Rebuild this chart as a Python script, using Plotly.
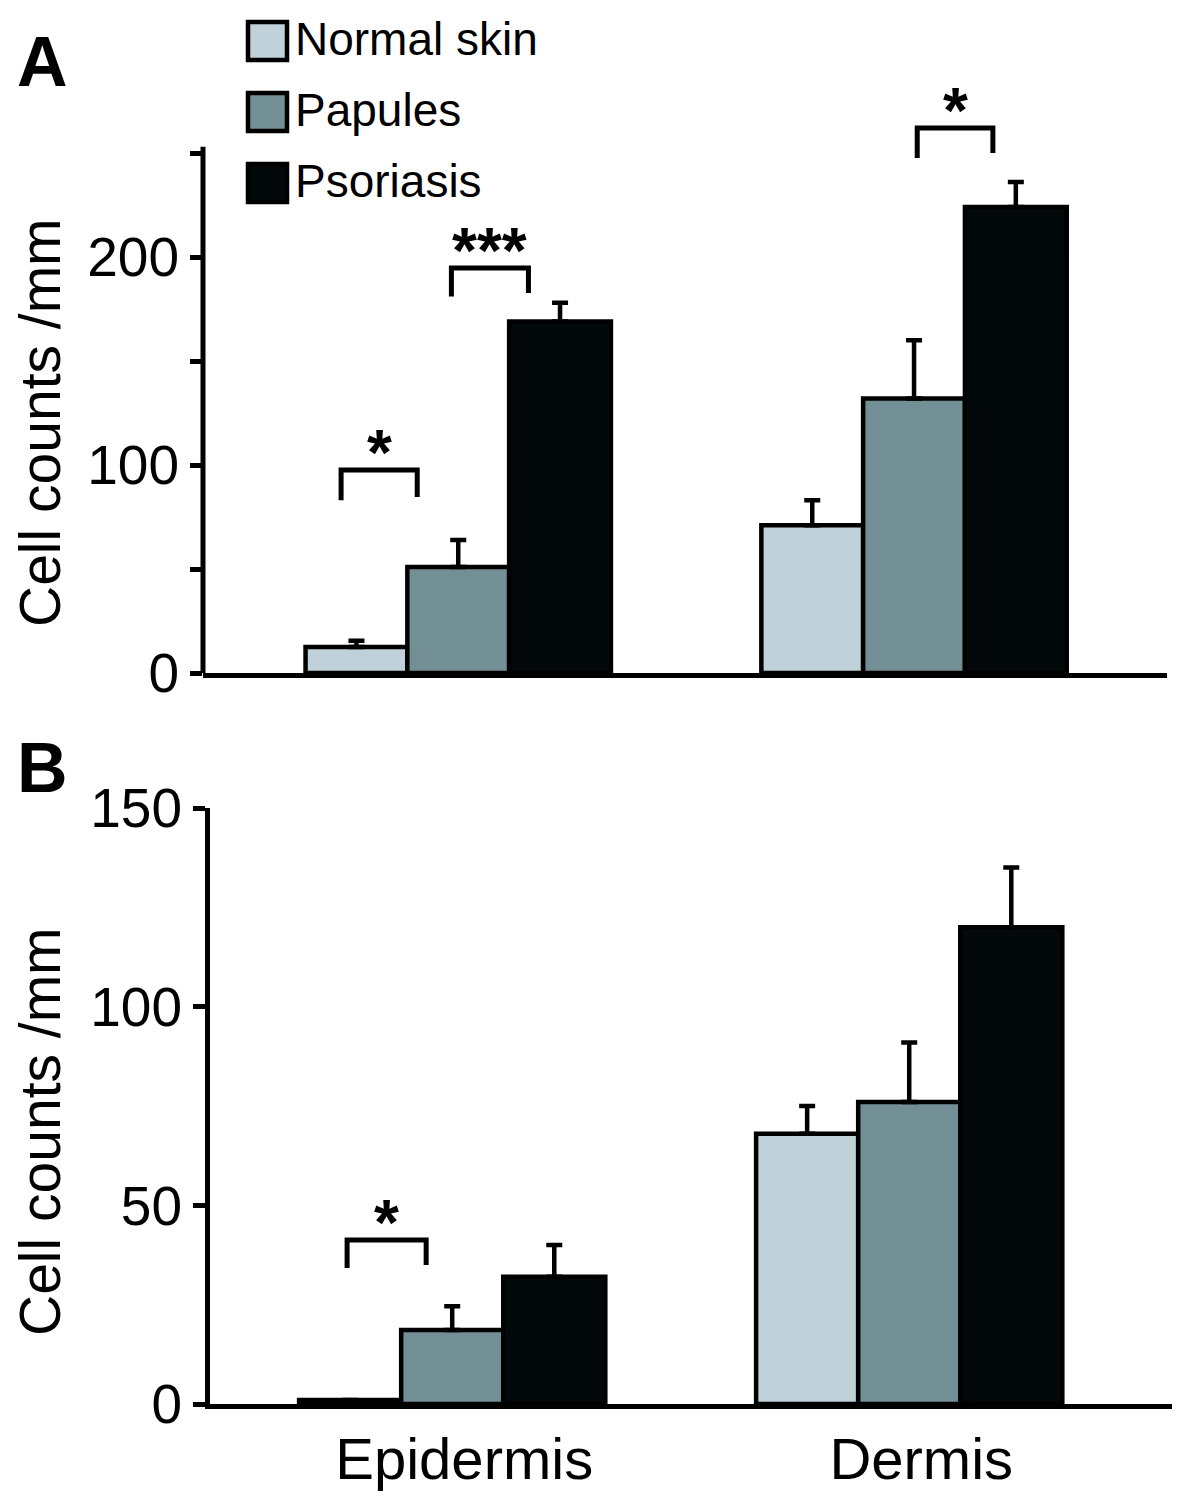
import plotly.graph_objects as go

# page body has an 8px margin; compensate so the figure lands where the reference is
OFF = 8
W, H = 1200 - OFF, 1498 - OFF

categories = ["Epidermis", "Dermis"]
series_names = ["Normal skin", "Papules", "Psoriasis"]
series_colors = ["#c1d1d9", "#728f96", "#03090b"]

# Panel A values (mean, upper error)
a_normal = [12.5, 71]
a_normal_err = [3, 12]
a_papules = [51, 132]
a_papules_err = [13, 28]
a_psoriasis = [169, 224]
a_psoriasis_err = [9, 12]

# Panel B values
b_normal = [1, 68]
b_normal_err = [0, 7]
b_papules = [18.6, 76]
b_papules_err = [6, 15]
b_psoriasis = [32, 120]
b_psoriasis_err = [8, 15]

a_ticks = [0, 50, 100, 150, 200, 250]
a_ticktext = ["0", "", "100", "", "200", ""]
b_ticks = [0, 50, 100, 150]
b_ticktext = ["0", "50", "100", "150"]

# significance brackets: group index, left x offset, right x offset, top, left leg end, right leg end, label
a_sig = [
    (0, -0.257, -0.09, 97.6, 83, 84.6, "*"),
    (0, -0.015, 0.154, 194.7, 181, 182.7, "***"),
    (1, 0.007, 0.173, 262, 247.6, 250, "*"),
]
b_sig = [
    (0, -0.23, -0.057, 41.3, 34.2, 35, "*"),
]

FONT = "Liberation Sans, Arial, sans-serif"


def px(p):
    return (p - OFF) / W


def py(p):
    return 1 - (p - OFF) / H


xs = list(range(len(categories)))
fig = go.Figure()

panels = [
    ("x", "y", [a_normal, a_papules, a_psoriasis], [a_normal_err, a_papules_err, a_psoriasis_err]),
    ("x2", "y2", [b_normal, b_papules, b_psoriasis], [b_normal_err, b_papules_err, b_psoriasis_err]),
]
for xa, ya, vals, errs in panels:
    for i, (name, col) in enumerate(zip(series_names, series_colors)):
        fig.add_trace(go.Bar(
            x=xs, y=vals[i], name=name, xaxis=xa, yaxis=ya,
            offsetgroup=str(i), showlegend=False,
            marker=dict(color=col, line=dict(color="black", width=4.5)),
            error_y=dict(type="data", symmetric=False, array=errs[i],
                         arrayminus=[0] * len(xs), color="black",
                         thickness=4.5, width=8),
        ))

shapes = []
annotations = []

# y axis line for panel A (range extends above to make room for brackets)
shapes.append(dict(type="line", xref="x domain", yref="y", x0=0, x1=0,
                   y0=0, y1=max(a_ticks) + 3, line=dict(color="black", width=5)))

for xa, ya, sigs in [("x", "y", a_sig), ("x2", "y2", b_sig)]:
    for g, x0, x1, top, l_end, r_end, lab in sigs:
        X0, X1 = xs[g] + x0, xs[g] + x1
        shapes.append(dict(type="path", xref=xa, yref=ya,
                           path=f"M {X0},{l_end} L {X0},{top} L {X1},{top} L {X1},{r_end}",
                           line=dict(color="black", width=5)))
        annotations.append(dict(x=(X0 + X1) / 2, y=top, xref=xa, yref=ya,
                                text=lab, showarrow=False, yanchor="bottom",
                                yshift=-21,
                                font=dict(family=FONT, size=64, color="black", weight="bold")))

# legend
leg_rows = [41, 112, 183]
for name, col, yc in zip(series_names, series_colors, leg_rows):
    shapes.append(dict(type="rect", xref="paper", yref="paper",
                       x0=px(248), x1=px(287), y0=py(yc + 19), y1=py(yc - 19),
                       fillcolor=col, line=dict(color="black", width=4.5)))
    annotations.append(dict(x=px(293), y=py(yc), xref="paper", yref="paper",
                            text=name, showarrow=False, xanchor="left", yanchor="middle",
                            yshift=2,
                            font=dict(family=FONT, size=46, color="black")))

# axis titles
for yc in [423, 1132]:
    annotations.append(dict(x=px(40), y=py(yc), xref="paper", yref="paper",
                            text="Cell counts /mm", textangle=-90, showarrow=False,
                            xanchor="center", yanchor="middle",
                            font=dict(family=FONT, size=57, color="black")))

# panel letters
for lab, yc in [("A", 62), ("B", 768)]:
    annotations.append(dict(x=px(42), y=py(yc), xref="paper", yref="paper",
                            text=lab, showarrow=False, xanchor="center", yanchor="middle",
                            font=dict(family=FONT, size=70, color="black", weight="bold")))

axis_common = dict(showgrid=False, zeroline=False, color="black", automargin=False)

fig.update_layout(
    template="none",
    width=W, height=H,
    margin=dict(l=0, r=0, t=0, b=0, pad=0, autoexpand=False),
    paper_bgcolor="white", plot_bgcolor="white",
    barmode="group", bargap=0.33, bargroupgap=0,
    font=dict(family=FONT, color="black"),
    shapes=shapes, annotations=annotations,
    xaxis=dict(domain=[px(203), px(1167)], anchor="y", range=[-0.56, 1.555],
               showline=True, linewidth=5, linecolor="black",
               showticklabels=False, ticks="", tickvals=xs, **axis_common),
    yaxis=dict(domain=[py(673), py(673 - 280 * 2.08)], anchor="x", range=[0, 280],
               tickvals=a_ticks, ticktext=a_ticktext, ticks="outside",
               ticklen=12, tickwidth=5, tickcolor="black", showline=False,
               tickfont=dict(size=55, family=FONT, color="black"), **axis_common),
    xaxis2=dict(domain=[px(210), px(1172)], anchor="y2", range=[-0.53, 1.575],
                showline=True, linewidth=5, linecolor="black",
                tickvals=xs, ticktext=categories, ticks="",
                tickfont=dict(size=58, family=FONT, color="black"),
                ticklabelshift=12, **axis_common),
    yaxis2=dict(domain=[py(1404), py(808)], anchor="x2", range=[0, 150],
                tickvals=b_ticks, ticktext=b_ticktext, ticks="outside",
                ticklen=12, tickwidth=5, tickcolor="black",
                showline=True, linewidth=5, linecolor="black",
                tickfont=dict(size=55, family=FONT, color="black"), **axis_common),
)

fig.write_html("out.html")
